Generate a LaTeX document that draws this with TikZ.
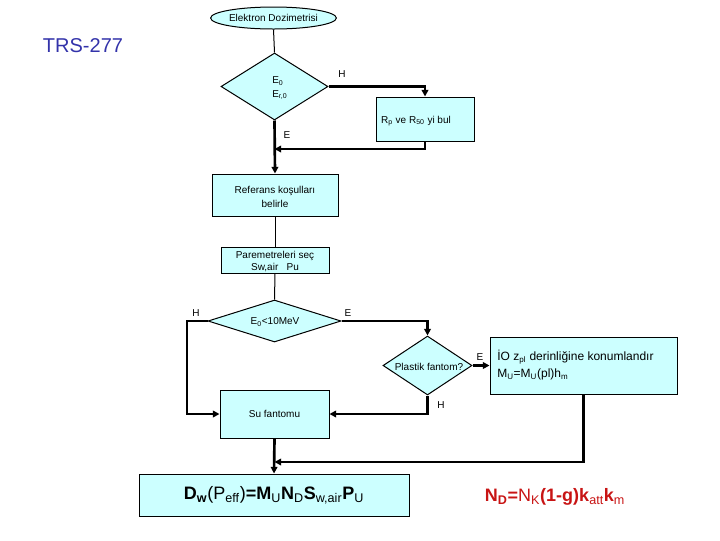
\documentclass[tikz,border=0pt]{standalone}
\usepackage{fontspec}
\setmainfont{Liberation Sans}
\usetikzlibrary{shapes.geometric,arrows.meta}
\definecolor{boxfill}{RGB}{204,255,255}
\definecolor{trsblue}{RGB}{51,51,170}
\definecolor{nred}{RGB}{200,20,20}
\begin{document}
\begin{tikzpicture}[x=0.75pt,y=-0.75pt,
 box/.style={draw,fill=boxfill,line width=0.75pt,inner sep=0pt},
 dia/.style={draw,fill=boxfill,diamond,line width=0.75pt,inner sep=0pt},
 txt/.style={font=\fontsize{7.5}{9}\selectfont,inner sep=0pt},
 thn/.style={line width=0.75pt},
 thk/.style={line width=2pt},
 arr/.style={thk,-{Triangle[length=5pt,width=5pt]}},
 lbl/.style={font=\fontsize{7.5}{9}\selectfont,inner sep=0pt}]
\useasboundingbox (0,0) rectangle (720,540);

% title
\node[inner sep=0pt,text=trsblue,font=\fontsize{15}{18}\selectfont] (trs) at (83,46) {TRS-277};

% nodes
\node[box,ellipse,minimum width=79.5pt,minimum height=16.5pt,font=\fontsize{7.5}{9}\selectfont] (ell) at (273.5,18) {Elektron Dozimetrisi};
\node[dia,minimum width=80.25pt,minimum height=50.25pt] (d1) at (274.5,86.5) {};
\node[txt,anchor=west] (t1) at (272,81) {E\textsubscript{0}};
\node[txt,anchor=west] (t2) at (272,95) {E\textsubscript{r,0}};
\node[box,minimum width=73.5pt,minimum height=33pt] (rbox) at (425,119) {};
\node[txt] (rt) at (416,121) {R\textsubscript{p} ve R\textsubscript{50} yi bul};
\node[box,minimum width=94.5pt,minimum height=31.5pt] (ref) at (275,195) {};
\node[inner sep=0pt,align=center,font=\fontsize{7.5}{10.5}\selectfont] (reft) at (275,197) {Referans koşulları\\belirle};
\node[box,minimum width=81pt,minimum height=19.5pt] (par) at (275,260) {};
\node[inner sep=0pt,align=center,font=\fontsize{7.5}{9}\selectfont] (part) at (275,262) {Paremetreleri seç\\Sw,air~~~Pu};
\node[dia,minimum width=99.75pt,minimum height=31.5pt] (d2) at (274.5,321) {};
\node[txt] (t3) at (275,322) {E\textsubscript{0}<10MeV};
\node[dia,minimum width=66.75pt,minimum height=44.25pt] (d3) at (427.5,365.5) {};
\node[txt] (t4) at (429,367) {Plastik fantom?};
\node[box,minimum width=140.25pt,minimum height=42.75pt] (io) at (583.5,365.5) {};
\node[inner sep=0pt,anchor=west,align=left,font=\fontsize{9}{12.75}\selectfont] (iot) at (497,365.5) {İO z\textsubscript{pl} derinliğine konumlandır\\M\textsubscript{U}=M\textsubscript{U}(pl)h\textsubscript{m}};
\node[box,minimum width=81.75pt,minimum height=36pt,font=\fontsize{7.5}{9}\selectfont] (su) at (274.5,414) {Su fantomu};
\node[box,minimum width=202.5pt,minimum height=31.5pt,font=\fontsize{13.5}{16}\selectfont] (big) at (274,495) {\textbf{D\textsubscript{w}}(P\textsubscript{eff})\textbf{=M}\textsubscript{U}\textbf{N}\textsubscript{D}\textbf{S}\textsubscript{w,air}\textbf{P}\textsubscript{U}};
\node[inner sep=0pt,text=nred,font=\fontsize{13.5}{16}\selectfont] (nd) at (555,497) {\textbf{N\textsubscript{D}=}N\textsubscript{K}\textbf{(1-g)k}\textsubscript{att}\textbf{k}\textsubscript{m}};

% junction coordinates
\coordinate (j1) at (274.5,149);
\coordinate (hl) at (187,414);
\coordinate (j2) at (274.5,462);

% connectors
\draw[thn] (ell.south) -- (d1.north);
\draw[arr] (d1.east) -| (rbox.north);
\draw[arr] (rbox.south) |- (j1);
\draw[arr] (d1.south) -- (ref.north);
\draw[thn] (ref.south) -- (par.north);
\draw[thn] (par.south) -- (d2.north);
\draw[arr] (d2.west) -| (hl) -- (su.west);
\draw[arr] (d2.east) -| (d3.north);
\draw[arr] (d3.east) -- (io.west);
\draw[arr] (d3.south) |- (su.east);
\draw[arr] (io.south) |- (j2);
\draw[arr] (su.south) -- (big.north);

% labels
\node[lbl] (l1) at (342,74) {H};
\node[lbl] (l2) at (287,135) {E};
\node[lbl] (l3) at (196,313) {H};
\node[lbl] (l4) at (348,313) {E};
\node[lbl] (l5) at (480,357) {E};
\node[lbl] (l6) at (441,405) {H};
\end{tikzpicture}
\end{document}
